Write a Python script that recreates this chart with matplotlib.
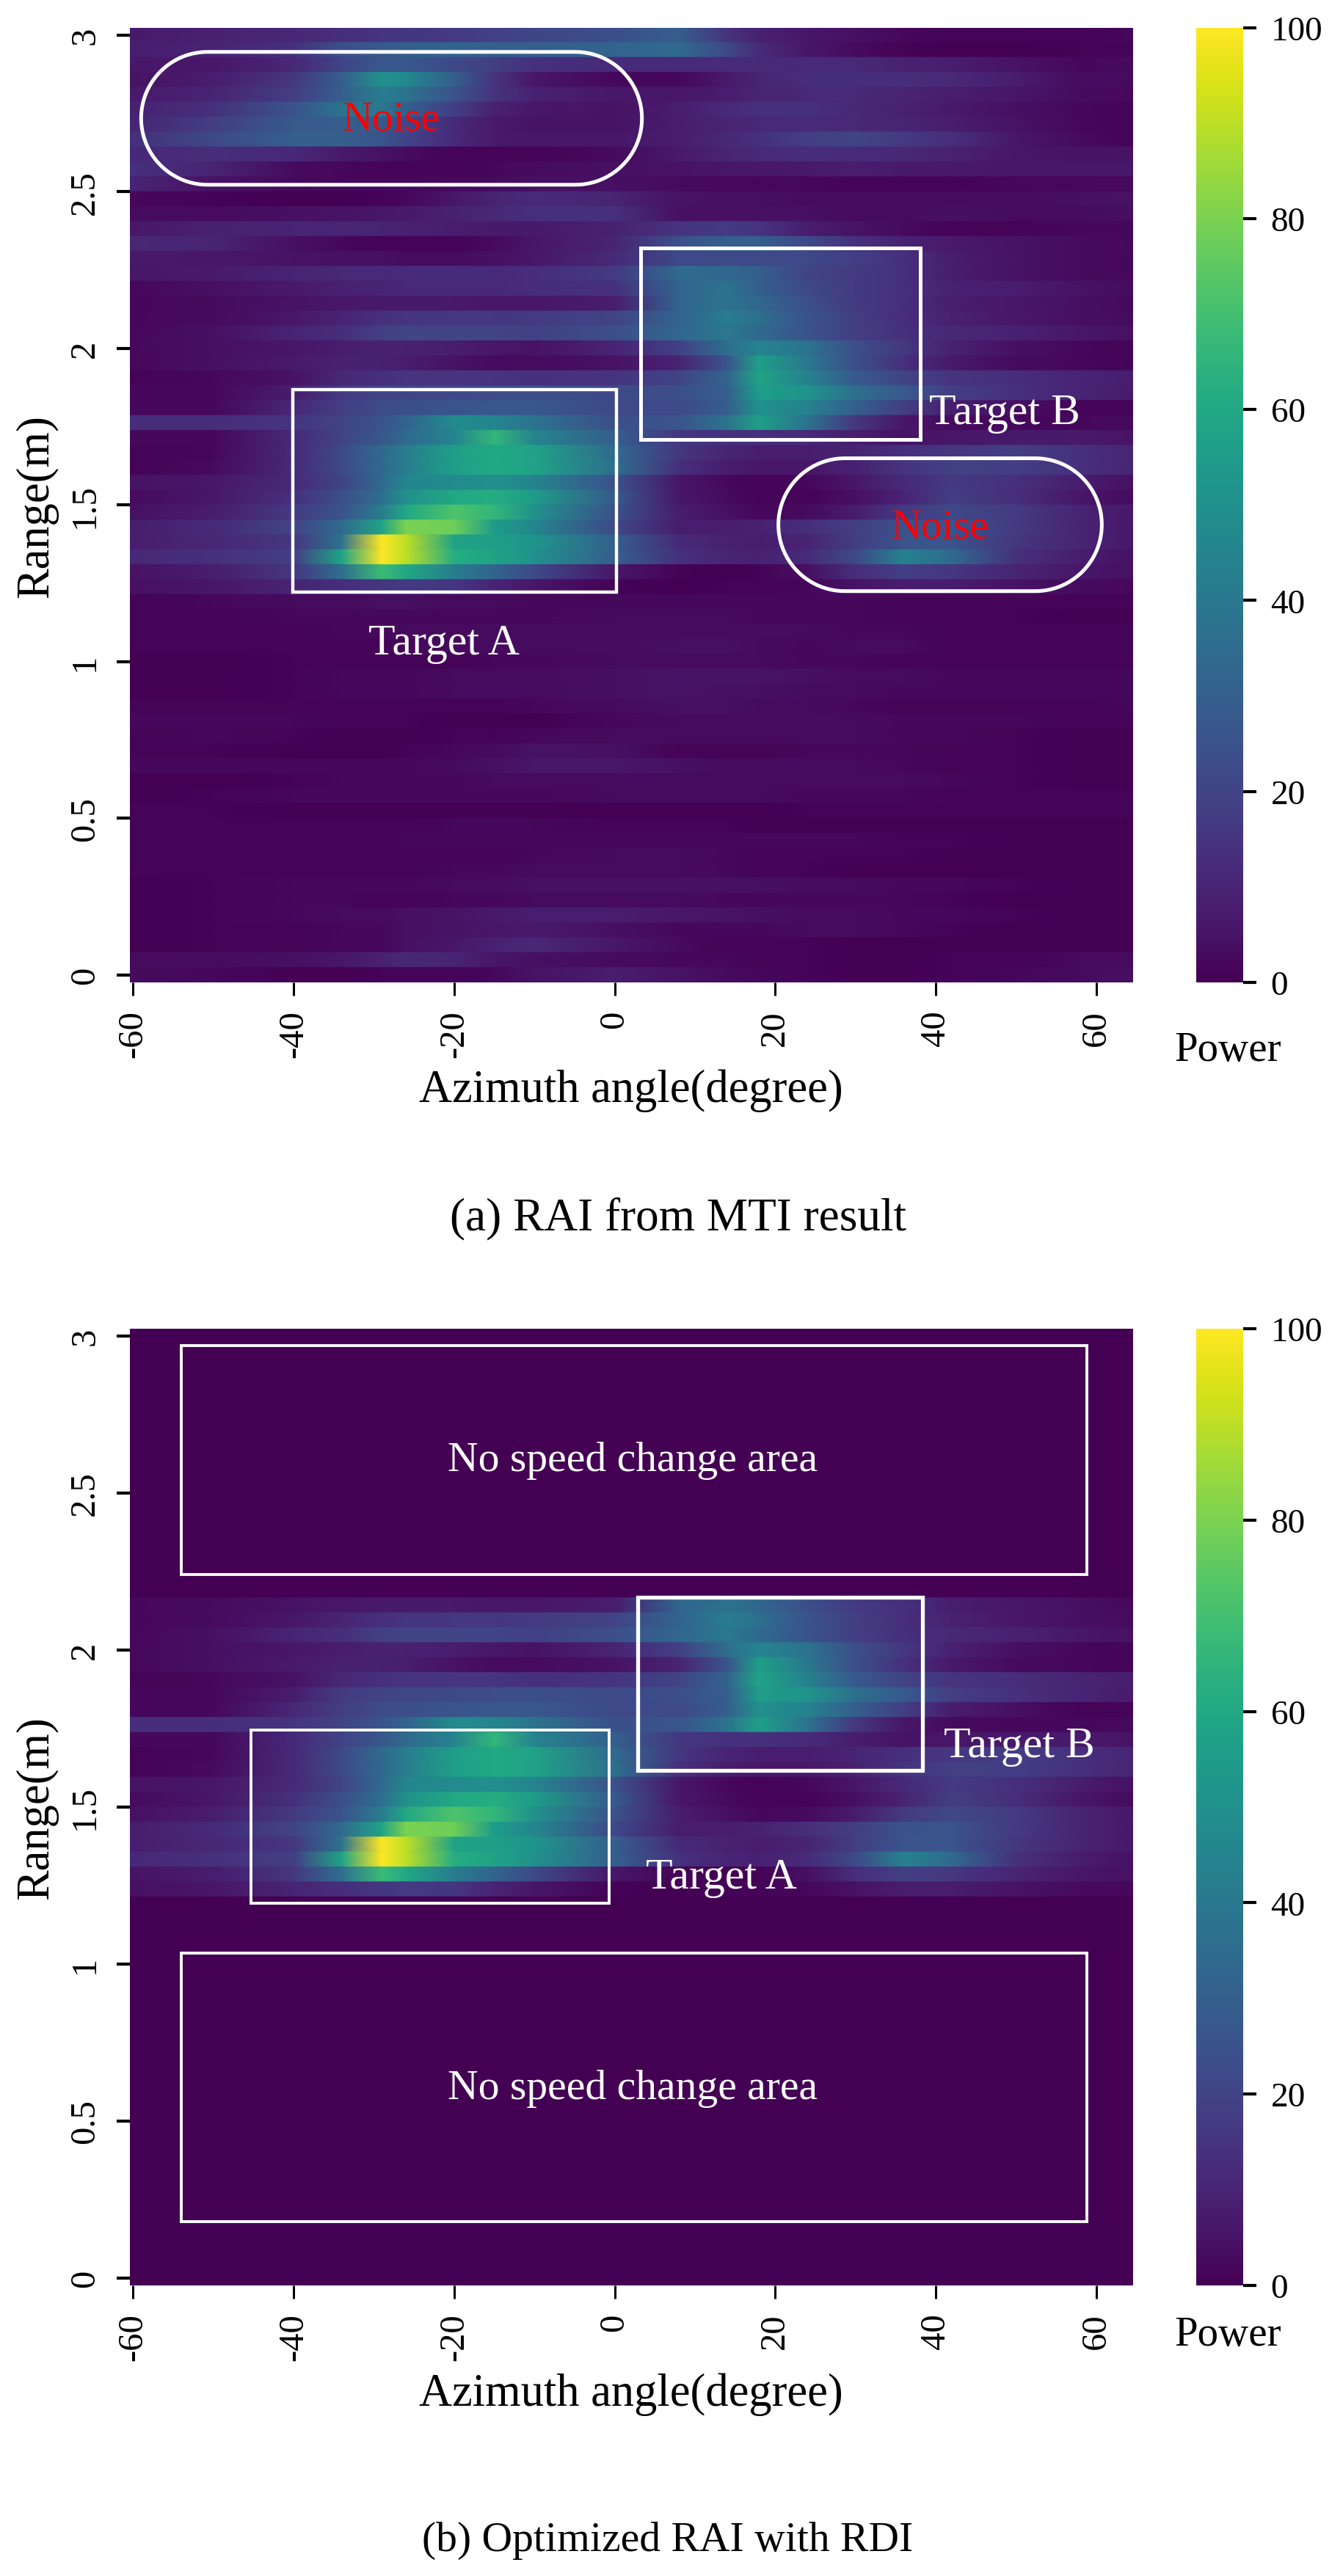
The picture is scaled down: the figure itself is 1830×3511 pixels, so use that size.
import numpy as np
import matplotlib
matplotlib.use("Agg")
import matplotlib.pyplot as plt
from matplotlib.patches import Rectangle, PathPatch
from matplotlib.path import Path

plt.rcParams['font.family'] = ['Liberation Serif', 'DejaVu Serif']

W, H, DPI = 1830, 3512, 100

azimuth_deg = [-60.5,-50,-40,-34,-29,-26,-20,-15,-10,0,8,14,18,24,30,36,42,50,58,65]
range_top = 3.0
n_rows = 64
rdi_rows_kept = (18, 38)

power_rows = [
[7,9,11,13,15,16,17,19,21,24,30,15,9,6,4,2,1,1,1,2],
[8,10,14,24,28,30,32,30,30,32,34,22,12,6,3,1,0,0,1,1],
[6,6,11,20,27,27,22,18,14,12,12,12,12,11,11,9,8,5,2,3],
[5,8,16,30,50,47,30,15,6,2,2,7,10,13,13,13,11,8,3,3],
[7,10,18,30,42,38,25,15,9,6,6,8,10,11,11,10,8,6,3,2],
[9,14,26,38,40,30,18,9,6,5,8,12,14,14,11,9,7,4,2,1],
[10,18,28,30,28,22,12,7,5,5,8,10,11,12,11,10,8,5,2,1],
[13,22,30,30,26,20,12,7,6,6,8,11,14,18,20,17,13,6,3,1],
[11,13,11,7,5,3,1,1,1,3,7,10,12,13,12,11,9,6,5,5],
[14,10,3,2,1,1,1,2,3,4,5,6,6,7,8,7,7,6,6,6],
[10,5,3,2,2,2,3,3,4,4,3,2,2,2,1,1,1,2,2,3],
[2,1,0,0,1,2,6,10,12,10,5,4,4,3,3,3,3,3,4,5],
[3,3,4,5,6,7,9,11,14,14,4,4,4,4,3,3,4,3,3,4],
[6,9,10,10,10,9,8,7,7,9,15,17,15,8,5,3,1,1,2,2],
[11,10,4,2,1,1,1,3,6,10,25,30,30,22,14,9,7,5,3,2],
[7,6,5,4,4,3,3,4,6,12,22,22,22,22,18,14,8,5,3,2],
[6,7,10,11,11,12,12,12,13,17,34,33,30,20,17,14,8,5,3,2],
[2,4,7,9,10,11,11,11,13,14,32,38,30,22,17,14,9,8,5,3],
[2,3,5,6,7,7,7,6,6,8,32,38,33,24,17,14,8,6,4,2],
[2,3,6,10,14,15,16,16,17,20,32,42,36,26,18,13,9,6,4,3],
[2,4,10,13,19,20,20,20,19,24,33,40,34,26,18,14,11,9,6,4],
[2,4,6,8,9,9,8,6,5,10,19,36,45,38,24,16,9,4,2,1],
[2,4,7,9,9,8,5,3,3,5,10,26,56,40,24,14,7,3,2,1],
[1,2,5,11,14,15,15,15,14,15,20,32,58,44,28,20,15,13,10,8],
[2,2,8,17,20,21,22,23,24,22,24,30,55,52,36,28,18,14,10,7],
[2,2,11,18,23,24,26,27,27,22,22,30,50,44,30,18,8,4,1,1],
[13,13,15,20,26,32,48,46,38,24,26,38,56,38,16,6,3,2,2,3],
[2,2,12,20,27,34,45,66,45,30,16,14,14,12,8,5,6,7,7,5],
[1,2,12,22,34,42,56,60,58,34,16,10,8,8,10,14,16,18,14,10],
[1,3,12,22,34,42,56,60,58,36,14,8,6,6,9,15,19,18,14,10],
[5,6,12,20,34,46,48,50,45,25,6,2,1,2,6,12,17,14,8,4],
[3,6,14,24,36,50,60,62,55,28,6,3,1,1,4,10,18,13,6,3],
[4,8,17,26,42,60,72,66,50,25,8,4,2,3,8,17,22,17,10,6],
[8,12,20,34,58,80,78,55,46,22,8,8,9,13,18,25,26,17,10,6],
[8,11,16,38,100,90,58,56,52,30,12,9,8,10,18,26,26,16,10,6],
[11,14,18,58,100,90,62,58,50,30,14,10,9,12,22,44,34,14,8,4],
[5,8,16,36,68,60,42,32,22,6,1,0,1,4,13,18,16,10,6,4],
[4,6,10,13,16,17,16,10,6,1,0,1,1,2,5,8,8,5,3,2],
[1,2,3,3,4,4,3,3,2,2,2,2,2,2,2,1,1,1,1,1],
[1,1,2,2,2,2,2,2,2,3,3,3,2,2,2,1,1,1,0,0],
[1,1,1,2,2,3,3,3,3,3,3,3,3,3,2,2,1,1,1,1],
[1,1,1,1,1,2,3,3,3,3,4,4,3,2,3,3,1,1,1,1],
[0,0,1,1,1,1,1,2,2,3,3,3,3,2,2,1,1,1,1,1],
[0,0,1,2,2,2,3,3,3,4,5,5,5,4,3,3,2,2,2,2],
[0,0,1,2,2,2,3,3,3,4,5,4,4,3,3,2,2,2,2,2],
[1,1,1,1,1,1,1,1,2,3,4,4,3,3,2,1,1,1,1,2],
[2,2,2,1,1,1,0,0,0,2,3,3,3,3,3,2,2,2,1,1],
[1,2,1,0,0,0,1,1,2,3,3,3,3,3,3,2,2,1,0,0],
[1,1,0,0,0,1,2,3,5,4,1,1,1,2,2,2,1,1,0,0],
[2,2,2,2,2,2,3,4,6,6,4,3,3,3,3,2,1,1,0,0],
[0,0,1,2,2,2,2,3,3,3,3,3,3,3,3,3,2,1,0,0],
[0,1,2,2,2,2,2,2,2,3,3,3,3,2,2,2,1,1,1,1],
[1,1,0,0,0,0,0,0,0,0,0,0,0,1,1,1,1,1,1,1],
[1,1,1,1,1,1,2,2,2,1,1,1,0,0,0,0,0,0,0,0],
[1,1,1,1,1,2,2,2,2,2,2,2,2,2,2,1,1,0,0,0],
[1,1,1,1,1,1,1,1,2,3,3,2,1,1,1,1,0,0,0,0],
[1,1,1,1,1,1,2,2,3,3,3,2,1,1,0,0,0,0,0,0],
[0,1,2,2,2,2,3,3,4,4,4,4,4,3,3,2,2,1,0,0],
[0,1,2,2,1,1,2,2,3,3,3,2,2,2,2,2,1,0,0,0],
[0,1,2,3,3,4,5,7,8,8,6,5,4,3,3,2,2,1,0,0],
[0,1,1,2,2,4,5,6,7,4,2,2,2,3,3,2,1,0,0,0],
[0,1,1,2,2,4,6,9,11,6,3,1,1,1,0,0,0,0,0,0],
[3,3,4,6,9,11,10,6,4,3,2,2,1,1,0,0,1,1,3,3],
[3,2,0,0,1,1,1,2,5,8,5,3,2,1,0,0,1,2,3,4],
]

x_ticks = [-60, -40, -20, 0, 20, 40, 60]
x_tick_labels = ['-60', '-40', '-20', '0', '20', '40', '60']
y_ticks = [0, 0.5, 1, 1.5, 2, 2.5, 3]
y_tick_labels = ['0', '0.5', '1', '1.5', '2', '2.5', '3']
cbar_ticks = [0, 20, 40, 60, 80, 100]

x_label = 'Azimuth angle(degree)'
y_label = 'Range(m)'
cbar_title = 'Power'
caption_a = '(a) RAI from MTI result'
caption_b = '(b) Optimized RAI with RDI'

fig = plt.figure(figsize=(W / DPI, H / DPI), dpi=DPI, facecolor='white')


def fx(px):
    return px / W


def fy(py):
    return 1 - py / H


def panel(box, cbox, rows):
    x0, y0, x1, y1 = box
    ax = fig.add_axes([fx(x0), fy(y1), fx(x1) - fx(x0), fy(y0) - fy(y1)])
    step = range_top / (n_rows - 1)
    edges = range_top + step / 2 - step * np.arange(n_rows + 1)
    y_edge_pairs = np.repeat(edges, 2)[1:-1]
    z = np.repeat(np.asarray(rows, dtype=float), 2, axis=0)
    mesh = ax.pcolormesh(azimuth_deg, y_edge_pairs, z, shading='gouraud',
                         cmap='viridis', vmin=0, vmax=100)
    ax.set_xlim(-60.4, 64.6)
    ax.set_ylim(-0.0238, 3.0238)
    for s in ax.spines.values():
        s.set_visible(False)
    ax.set_xticks(x_ticks, x_tick_labels, rotation=90, fontsize=35)
    ax.set_yticks(y_ticks, y_tick_labels, rotation=90, va='center', fontsize=35)
    ax.tick_params(axis='x', length=13, width=2.2, pad=14)
    ax.tick_params(axis='y', length=13, width=3, pad=15)
    cax = fig.add_axes([fx(cbox[0]), fy(y1), fx(cbox[1]) - fx(cbox[0]), fy(y0) - fy(y1)])
    cb = fig.colorbar(mesh, cax=cax, ticks=cbar_ticks)
    cb.outline.set_visible(False)
    cax.tick_params(length=13, width=3, pad=14, labelsize=34)
    return ax


def label_text(px, py, s, size=43, color='black', rotation=0):
    fig.text(fx(px), fy(py), s, ha='center', va='center', fontsize=size,
             color=color, rotation=rotation)


def rect(ax, x0, x1, y0, y1, lw):
    ax.add_patch(Rectangle((x0, y0), x1 - x0, y1 - y0, fill=False, ec='white', lw=lw,
                           joinstyle='miter'))


def capsule(ax, x0, x1, y0, y1, lw):
    # straight sides closed by two half circles, sized on screen pixels (427 px per metre, 10.93 px per degree)
    r_y = (y1 - y0) / 2
    r_x = r_y * 427 / 10.93
    y_mid = (y0 + y1) / 2
    t = np.linspace(-np.pi / 2, np.pi / 2, 60)
    right = np.column_stack([x1 - r_x + r_x * np.cos(t), y_mid + r_y * np.sin(t)])
    left = np.column_stack([x0 + r_x - r_x * np.cos(t), y_mid - r_y * np.sin(t)])
    ax.add_patch(PathPatch(Path(np.vstack([right, left, right[:1]]), closed=False),
                           fill=False, ec='white', lw=lw))


# Panel (a)
ax_a = panel((177, 38.5, 1544, 1340), (1630, 1694), power_rows)
capsule(ax_a, -59, 3.4, 2.522, 2.946, 3.6)
capsule(ax_a, 20.4, 60.7, 1.225, 1.649, 3.6)
rect(ax_a, -40.1, 0.2, 1.223, 1.869, 3.2)
rect(ax_a, 3.2, 38.1, 1.71, 2.319, 3.6)
label_text(533, 163, 'Noise', size=41, color='red')
label_text(1281, 719, 'Noise', size=41, color='red')
label_text(605, 878, 'Target A', color='white')
label_text(1369, 564, 'Target B', color='white')
label_text(50, 690, y_label, size=45, rotation=90)
label_text(860, 1487, x_label, size=45)
label_text(1673, 1432, cbar_title, size=41)
label_text(924, 1661, caption_a, size=45.5)

# Panel (b): the same image, kept only in the range rows that the RDI marks as moving
rows_b = [r if rdi_rows_kept[0] <= i < rdi_rows_kept[1] else [0] * len(r)
          for i, r in enumerate(power_rows)]
ax_b = panel((177, 1812, 1544, 3116), (1630, 1694), rows_b)
rect(ax_b, -54, 58.8, 2.24, 2.97, 2.8)
rect(ax_b, -54, 58.8, 0.18, 1.035, 2.8)
rect(ax_b, -45.3, -0.7, 1.194, 1.745, 2.8)
rect(ax_b, 2.9, 38.4, 1.617, 2.168, 3.8)
label_text(862, 1991, 'No speed change area', size=41.5, color='white')
label_text(862, 2847, 'No speed change area', size=41.5, color='white')
label_text(983, 2560, 'Target A', color='white')
label_text(1389, 2381, 'Target B', color='white')
label_text(50, 2464, y_label, size=45, rotation=90)
label_text(860, 3264, x_label, size=45)
label_text(1673, 3183, cbar_title, size=41)
label_text(910, 3463, caption_b, size=41.5)

fig.savefig('out.png', dpi=DPI, facecolor='white')
